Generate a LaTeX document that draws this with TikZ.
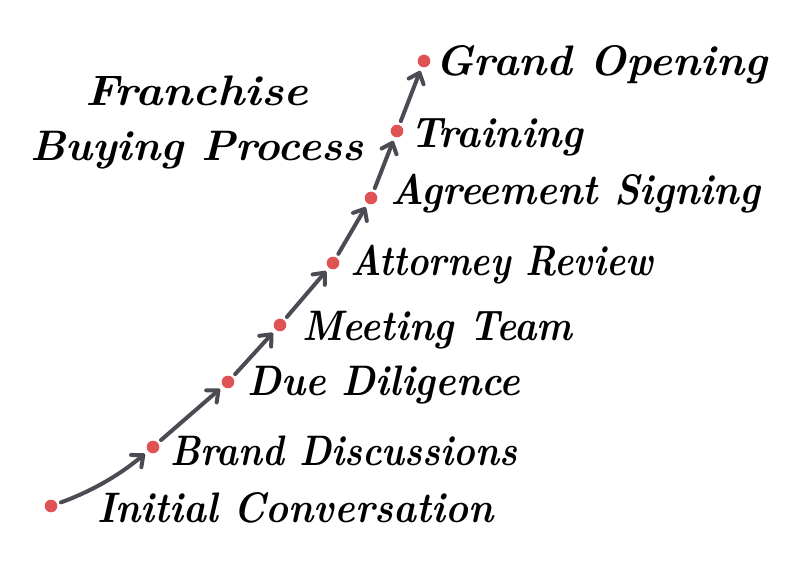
\documentclass[tikz,border=0pt]{standalone}
\usepackage{fontspec}
\usetikzlibrary{arrows.meta}
\definecolor{dotred}{RGB}{224,83,85}
\definecolor{arrgray}{RGB}{75,75,83}
\newlength\fitlen
\newcommand\fitw[2]{\settowidth{\fitlen}{#2}\pgfmathsetmacro\fitsx{#1*0.75/\fitlen}\scalebox{\fitsx}[1]{#2}}
\tikzset{
  dotnode/.style={circle,fill=dotred,inner sep=0pt,minimum size=9.5pt},
  lbl/.style={anchor=base west,inner sep=0pt,font=\bfseries\itshape\fontsize{32}{36}\selectfont},
  stepline/.style={draw=arrgray,line width=3pt,line cap=round,shorten <=3pt,shorten >=3pt,
    -{Straight Barb[length=7pt,width=12pt,line width=3pt,round]}}
}
\begin{document}
\begin{tikzpicture}[x=0.75pt,y=-0.75pt]
\useasboundingbox (0,0) rectangle (800,578);
\fill[white] (0,0) rectangle (800,578);
% dots
\node[dotnode] (d1) at (51,506) {};
\node[dotnode] (d2) at (153,447) {};
\node[dotnode] (d3) at (228,382) {};
\node[dotnode] (d4) at (280,325) {};
\node[dotnode] (d5) at (333,263) {};
\node[dotnode] (d6) at (371,198) {};
\node[dotnode] (d7) at (397,131) {};
\node[dotnode] (d8) at (424,61) {};
% connectors
\draw[stepline] (d1) .. controls (95,490) and (122,473) .. (d2);
\draw[stepline] (d2) -- (d3);
\draw[stepline] (d3) -- (d4);
\draw[stepline] (d4) -- (d5);
\draw[stepline] (d5) -- (d6);
\draw[stepline] (d6) -- (d7);
\draw[stepline] (d7) -- (d8);
% labels
\node[lbl] (t8) at (435,75) {\fitw{332}{Grand Opening}};
\node[lbl] (t7) at (410,147) {\fitw{173}{Training}};
\node[lbl] (t6) at (390,204) {\fitw{370}{Agreement Signing}};
\node[lbl] (t5) at (350,275) {\fitw{303}{Attorney Review}};
\node[lbl] (t4) at (302,340) {\fitw{270}{Meeting Team}};
\node[lbl] (t3) at (247,395) {\fitw{273}{Due Diligence}};
\node[lbl] (t2) at (170,465) {\fitw{347}{Brand Discussions}};
\node[lbl] (t1) at (97,522) {\fitw{396}{Initial Conversation}};
% title
\node[lbl] (h1) at (85,105) {\fitw{223}{Franchise}};
\node[lbl] (h2) at (30,160) {\fitw{333}{Buying Process}};
\end{tikzpicture}
\end{document}
